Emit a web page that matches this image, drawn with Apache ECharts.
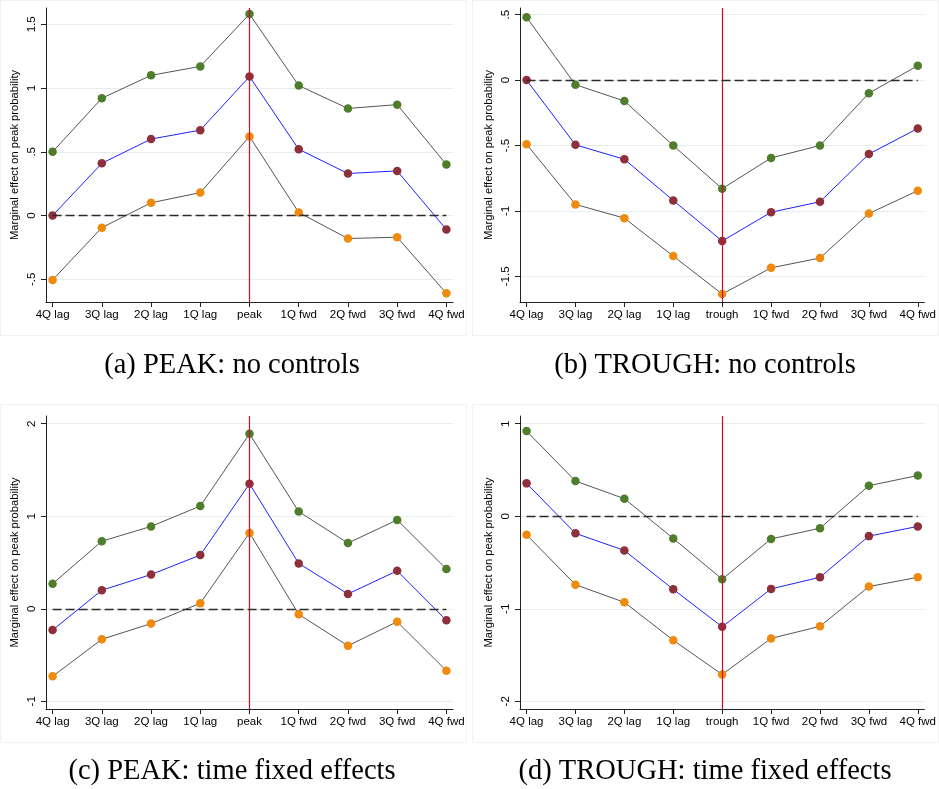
<!DOCTYPE html>
<html>
<head>
<meta charset="utf-8">
<script src="https://cdn.jsdelivr.net/npm/echarts@6/dist/echarts.min.js"></script>
<style>html,body{margin:0;padding:0;background:#fff;}#c{width:939px;height:789px;}</style>
</head>
<body>
<div id="c"></div>
<script>
var catsPeak = ['4Q lag','3Q lag','2Q lag','1Q lag','peak','1Q fwd','2Q fwd','3Q fwd','4Q fwd'];
var catsTrough = ['4Q lag','3Q lag','2Q lag','1Q lag','trough','1Q fwd','2Q fwd','3Q fwd','4Q fwd'];

var aUpper = [0.50, 0.92, 1.10, 1.17, 1.58, 1.02, 0.84, 0.87, 0.40];
var aPoint = [0.00, 0.41, 0.60, 0.67, 1.09, 0.52, 0.33, 0.35, -0.11];
var aLower = [-0.505, -0.095, 0.10, 0.18, 0.62, 0.024, -0.18, -0.17, -0.61];

var bUpper = [0.48, -0.035, -0.16, -0.50, -0.83, -0.595, -0.50, -0.10, 0.11];
var bPoint = [0.00, -0.495, -0.605, -0.92, -1.23, -1.01, -0.93, -0.565, -0.37];
var bLower = [-0.49, -0.95, -1.055, -1.345, -1.635, -1.435, -1.36, -1.02, -0.845];

var cUpper = [0.27, 0.73, 0.89, 1.11, 1.89, 1.05, 0.71, 0.96, 0.43];
var cPoint = [-0.23, 0.20, 0.37, 0.58, 1.35, 0.49, 0.16, 0.41, -0.125];
var cLower = [-0.73, -0.33, -0.16, 0.06, 0.82, -0.06, -0.40, -0.14, -0.67];

var dUpper = [0.92, 0.38, 0.19, -0.24, -0.68, -0.245, -0.13, 0.33, 0.44];
var dPoint = [0.355, -0.185, -0.37, -0.79, -1.195, -0.785, -0.66, -0.215, -0.11];
var dLower = [-0.20, -0.74, -0.93, -1.34, -1.71, -1.32, -1.19, -0.76, -0.66];

var aTicks = [-0.5, 0, 0.5, 1, 1.5];
var bTicks = [-1.5, -1, -0.5, 0, 0.5];
var cTicks = [-1, 0, 1, 2];
var dTicks = [-2, -1, 0, 1];

var captions = ['(a) PEAK: no controls', '(b) TROUGH: no controls', '(c) PEAK: time fixed effects', '(d) TROUGH: time fixed effects'];
var yTitle = 'Marginal effect on peak probability';

var panels = [
  {cats: catsPeak, up: aUpper, pt: aPoint, lo: aLower, ticks: aTicks, min: -0.678, max: 1.628, grid: {left: 46, top: 8, width: 407, height: 294}},
  {cats: catsTrough, up: bUpper, pt: bPoint, lo: bLower, ticks: bTicks, min: -1.696, max: 0.551, grid: {left: 520, top: 8, width: 407, height: 294}},
  {cats: catsPeak, up: cUpper, pt: cPoint, lo: cLower, ticks: cTicks, min: -1.083, max: 2.083, grid: {left: 46, top: 416, width: 407, height: 293}},
  {cats: catsTrough, up: dUpper, pt: dPoint, lo: dLower, ticks: dTicks, min: -2.083, max: 1.083, grid: {left: 520, top: 416, width: 407, height: 293}}
];

function stataFmt(v) {
  var s = String(Math.round(v * 100) / 100);
  return s.replace(/^0\./, '.').replace(/^-0\./, '-.');
}
function pairs(arr) { return arr.map(function (v, i) { return [i, v]; }); }

var idx = [0,1,2,3,4,5,6,7,8];
var grids = [], xAxes = [], yAxes = [], series = [];
var axisCol = '#222';
var lab = {fontFamily: 'Liberation Sans, Arial, sans-serif', fontSize: 11.5, color: '#000'};

panels.forEach(function (p, k) {
  grids.push(p.grid);
  (function (cats) {
    xAxes.push({
      type: 'value', gridIndex: k, min: -0.134, max: 8.134,
      axisLine: {show: true, onZero: false, lineStyle: {color: axisCol, width: 1}},
      axisTick: {show: true, customValues: idx, length: 5, lineStyle: {color: axisCol}},
      axisLabel: Object.assign({customValues: idx, margin: 7, formatter: function (v) { return cats[Math.round(v)]; }}, lab),
      splitLine: {show: false}
    });
  })(p.cats);
  yAxes.push({
    type: 'value', gridIndex: k, min: p.min, max: p.max,
    name: yTitle, nameLocation: 'middle', nameGap: 26, nameRotate: 90,
    nameTextStyle: {fontFamily: 'Liberation Sans, Arial, sans-serif', fontSize: 11.2, color: '#000'},
    axisLine: {show: true, onZero: false, lineStyle: {color: axisCol, width: 1}},
    axisTick: {show: true, customValues: p.ticks, length: 5, lineStyle: {color: axisCol}},
    axisLabel: Object.assign({customValues: p.ticks, rotate: 90, margin: 8, formatter: stataFmt}, lab),
    splitLine: {show: true, lineStyle: {color: '#e4edef', width: 1}}
  });
  series.push({
    type: 'line', xAxisIndex: k, yAxisIndex: k, data: [], z: 1, silent: true,
    markLine: {
      silent: true, symbol: ['none', 'none'], label: {show: false}, animation: false,
      data: [
        {xAxis: 4, lineStyle: {color: '#c8102e', width: 1.2, type: 'solid'}},
        [{coord: [0, 0], lineStyle: {color: '#2a2a2a', width: 1.3, type: [9, 4]}}, {coord: [8, 0]}]
      ]
    }
  });
  series.push({
    type: 'line', xAxisIndex: k, yAxisIndex: k, data: pairs(p.up), z: 3,
    symbol: 'circle', symbolSize: 8.5,
    itemStyle: {color: '#4e7d2b'}, lineStyle: {color: '#555', width: 1}
  });
  series.push({
    type: 'line', xAxisIndex: k, yAxisIndex: k, data: pairs(p.pt), z: 3,
    symbol: 'circle', symbolSize: 8.5,
    itemStyle: {color: '#8e2f3a'}, lineStyle: {color: '#2020ff', width: 1}
  });
  series.push({
    type: 'line', xAxisIndex: k, yAxisIndex: k, data: pairs(p.lo), z: 3,
    symbol: 'circle', symbolSize: 8.5,
    itemStyle: {color: '#ef8a0c'}, lineStyle: {color: '#555', width: 1}
  });
});

var capPos = [[232, 366], [705, 366], [232, 772], [705, 772]];
var graphics = [
  {type: 'rect', shape: {x: 0.5, y: 0.5, width: 466, height: 335}, style: {fill: 'none', stroke: '#f2f2f2'}, silent: true},
  {type: 'rect', shape: {x: 472.5, y: 0.5, width: 466, height: 335}, style: {fill: 'none', stroke: '#f2f2f2'}, silent: true},
  {type: 'rect', shape: {x: 0.5, y: 404.5, width: 466, height: 338}, style: {fill: 'none', stroke: '#f2f2f2'}, silent: true},
  {type: 'rect', shape: {x: 472.5, y: 404.5, width: 466, height: 338}, style: {fill: 'none', stroke: '#f2f2f2'}, silent: true}
];
captions.forEach(function (t, i) {
  graphics.push({
    type: 'text', x: capPos[i][0], y: capPos[i][1], silent: true,
    style: {text: t, fill: '#000', font: '28.5px "Liberation Serif", "Times New Roman", serif', textAlign: 'center', textVerticalAlign: 'middle'}
  });
});

var chart = echarts.init(document.getElementById('c'), null, {renderer: 'canvas'});
chart.setOption({
  animation: false,
  backgroundColor: '#fff',
  grid: grids, xAxis: xAxes, yAxis: yAxes, series: series,
  graphic: graphics
});
</script>
</body>
</html>
